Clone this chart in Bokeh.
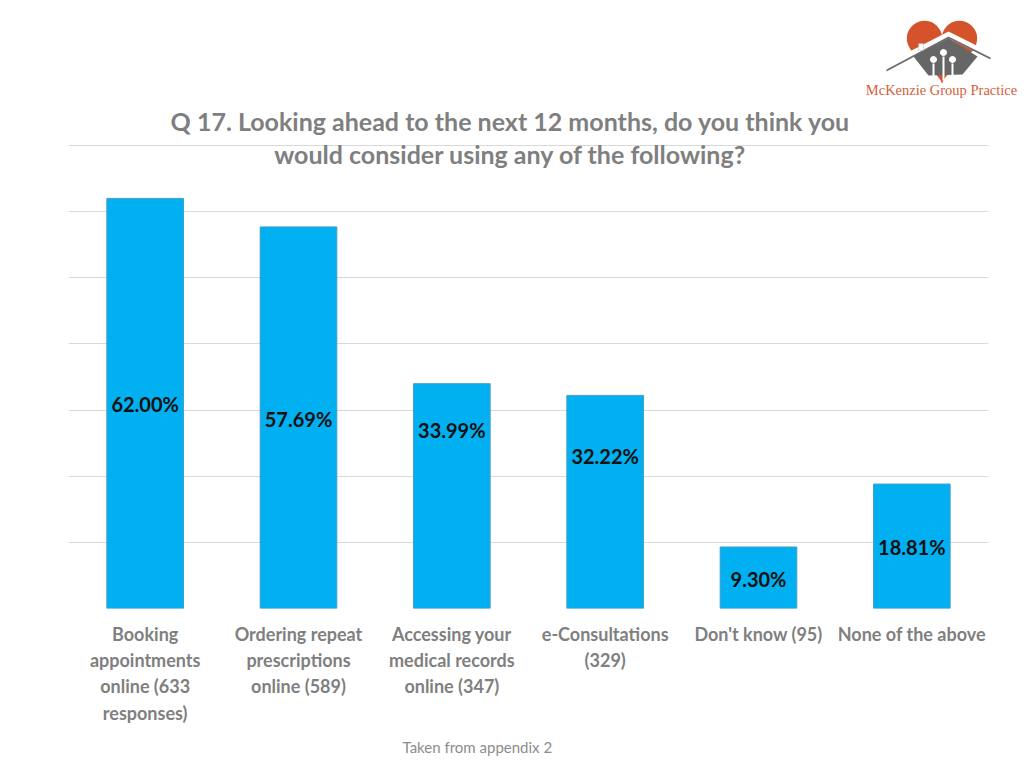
import numpy as np
from bokeh.plotting import figure
from bokeh.models import Label, PolyAnnotation, Range1d, FixedTicker, ColumnDataSource, Title
from bokeh.core.properties import value
from bokeh.embed import file_html
from bokeh.resources import INLINE

# ---- data ----
categories = [
    "Booking\nappointments\nonline (633\nresponses)",
    "Ordering repeat\nprescriptions\nonline (589)",
    "Accessing your\nmedical records\nonline (347)",
    "e-Consultations\n(329)",
    "Don't know (95)",
    "None of the above",
]
percentages = [62.00, 57.69, 33.99, 32.22, 9.30, 18.81]
pct_labels = ["62.00%", "57.69%", "33.99%", "32.22%", "9.30%", "18.81%"]
title_lines = ["Q 17. Looking ahead to the next 12 months, do you think you",
               "would consider using any of the following?"]
footer = "Taken from appendix 2"
logo_text = "McKenzie Group Practice"

# ---- style ----
label_nudge_px = [1, 1, -66, -46, 1, 1]
FONT = "Lato"
GREY = "#7f7f7f"

W, H = 1024, 768
PL, PR, PT, PB = 68, 988, 145, 608   # plot-area edges (page px)
YMAX = 70
n = len(categories)
cat_px = (PR - PL) / n
ypx = (PB - PT) / YMAX

x_end = (W - PL) / cat_px
y_end = PB / ypx

p = figure(width=W, height=H, output_backend="svg", toolbar_location=None,
           x_range=Range1d(0, x_end), y_range=Range1d(0, y_end),
           min_border_left=PL, min_border_right=0,
           min_border_top=0, min_border_bottom=H - PB)
p.outline_line_color = None
p.background_fill_color = "white"
p.border_fill_color = "white"

xs = [i + 0.5 for i in range(n)]
src = ColumnDataSource(dict(x=xs, top=percentages, lab=pct_labels,
                            ly=[v / 2 for v in percentages], off=label_nudge_px))
p.vbar(x="x", top="top", bottom=0, width=0.5, source=src,
       fill_color="#00B0F0", line_color="#4a9cc9", line_width=1)
p.text(x="x", y="ly", text="lab", source=src, y_offset="off",
       text_align="center", text_baseline="middle",
       text_font=value(FONT), text_font_style="bold", text_font_size="20px",
       text_color="#111111")

# axes / grid
p.yaxis.visible = False
p.ygrid.ticker = FixedTicker(ticks=list(range(0, YMAX + 1, 10)))
p.ygrid.grid_line_color = "#d9d9d9"
p.ygrid.grid_line_width = 1
try:
    p.ygrid.cross_bounds = (0, n)
except Exception:
    pass
p.xgrid.visible = False
xa = p.xaxis[0]
xa.ticker = FixedTicker(ticks=xs)
xa.major_label_overrides = {x: c for x, c in zip(xs, categories)}
xa.axis_line_color = None
xa.major_tick_line_color = None
xa.minor_tick_line_color = None
xa.major_label_standoff = 8
xa.major_label_text_font = FONT
xa.major_label_text_font_style = "bold"
xa.major_label_text_font_size = "18px"
xa.major_label_text_color = GREY

# footer below the axis
p.add_layout(Title(text=footer, align="left", offset=402 - PL, standoff=19,
                   text_font=FONT, text_font_style="normal", text_font_size="15px",
                   text_color="#8c8c8c"), "below")

# page px -> data helpers for decorations
def dx(sx):
    return (sx - PL) / cat_px

def dy(sy):
    return (PB - sy) / ypx

# title
for txt, sy in zip(title_lines, [120, 153]):
    p.add_layout(Label(x=dx(510), y=dy(sy), text=txt, text_align="center",
                       text_baseline="middle", text_font=FONT, text_font_style="bold",
                       text_font_size="25px", text_color=GREY))

# logo: heart
t = np.linspace(0, 2 * np.pi, 90)
hx = 16 * np.sin(t) ** 3
hy = 13 * np.cos(t) - 5 * np.cos(2 * t) - 2 * np.cos(3 * t) - np.cos(4 * t)
s = 2.2
p.add_layout(PolyAnnotation(xs=[dx(941.5 + v * s) for v in hx], ys=[dy(46.5 - v * s) for v in hy],
                            fill_color="#d4532b", fill_alpha=1, line_color=None))
# white band along the roof
p.add_layout(PolyAnnotation(xs=[dx(v) for v in [878, 948, 998, 998, 948, 878]],
                            ys=[dy(v) for v in [67, 31, 56, 62, 38, 74]],
                            fill_color="white", fill_alpha=1, line_color=None))
# thin roof line
p.add_layout(PolyAnnotation(xs=[dx(v) for v in [886, 948, 990, 990, 948, 886]],
                            ys=[dy(v) for v in [69, 36, 57, 59, 38, 71]],
                            fill_color="#6d6d6d", fill_alpha=1, line_color=None))
# house body
p.add_layout(PolyAnnotation(xs=[dx(v) for v in [913, 948, 977, 962, 928]],
                            ys=[dy(v) for v in [56, 38, 56, 74, 75]],
                            fill_color="#666666", fill_alpha=1, line_color=None))
# chimney
p.add_layout(PolyAnnotation(xs=[dx(v) for v in [918, 923, 923, 918]],
                            ys=[dy(v) for v in [43, 43, 50, 50]],
                            fill_color="white", fill_alpha=1, line_color="#8a8a8a", line_width=1))
# people
a = np.linspace(0, 2 * np.pi, 16)
for cx, cy in [(933, 59), (943, 52), (952, 59)]:
    p.add_layout(PolyAnnotation(xs=[dx(cx + 3.5 * np.cos(v)) for v in a],
                                ys=[dy(cy + 3.5 * np.sin(v)) for v in a],
                                fill_color="white", fill_alpha=1, line_color=None))
for x0, y0, y1 in [(933, 63, 78), (943, 56, 80), (952, 63, 78)]:
    p.add_layout(PolyAnnotation(xs=[dx(x0 - 1), dx(x0 + 1), dx(x0 + 1), dx(x0 - 1)],
                                ys=[dy(y0), dy(y0), dy(y1), dy(y1)],
                                fill_color="white", fill_alpha=1, line_color=None))
p.add_layout(Label(x=dx(941), y=dy(89), text=logo_text, text_align="center",
                   text_baseline="middle", text_font="Liberation Serif",
                   text_font_size="14.5px", text_color="#d4603a"))

open("out.html", "w").write(file_html(p, INLINE))
